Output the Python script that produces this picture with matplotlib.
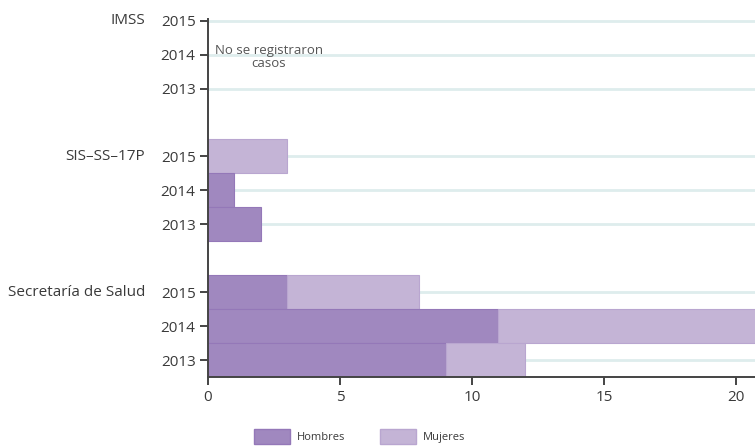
import numpy as np
import matplotlib.pyplot as plt
from matplotlib.patches import Patch

plt.rcParams['font.family'] = ['Open Sans', 'DejaVu Sans']

# data
groups = ["IMSS", "SIS\u2013SS\u201317P", "Secretaría de Salud"]
years = ["2015", "2014", "2013"]
hombres = {
    "IMSS": [0, 0, 0],
    "SIS\u2013SS\u201317P": [0, 1, 2],
    "Secretaría de Salud": [3, 11, 9],
}
mujeres = {
    "IMSS": [0, 0, 0],
    "SIS\u2013SS\u201317P": [3, 0, 0],
    "Secretaría de Salud": [5, 10, 3],
}
x_ticks = [0, 5, 10, 15, 20]

c_h = "#a088bf"
c_m = "#c4b4d6"
edge = "#9478b8"
text_c = "#3a3a3a"

fig = plt.figure(figsize=(7.55, 4.46), dpi=100)
ax = fig.add_axes([0.2755, 0.1547, 0.7245, 0.8027])

positions = []
labels = []
for gi, g in enumerate(groups):
    base = gi * 4
    for yi, yr in enumerate(years):
        pos = base + yi
        positions.append(pos)
        labels.append(yr)
        ax.axhline(pos, color="#deeded", lw=2, zorder=0)
        h = hombres[g][yi]
        m = mujeres[g][yi]
        if h > 0:
            ax.barh(pos, h, height=1.0, color=c_h, edgecolor=edge, lw=0.8, zorder=2)
        if m > 0:
            ax.barh(pos, m, left=h, height=1.0, color=c_m, edgecolor="#b9a6d0", lw=0.8, zorder=2)
    # group label
    ax.text(-0.115, base, g, transform=ax.get_yaxis_transform(), ha="right", va="center",
            fontsize=11, color=text_c)

ax.set_yticks(positions)
ax.set_yticklabels(labels)
ax.set_xticks(x_ticks)
ax.set_xlim(0, 20.72)
ax.set_ylim(10.5, -0.05)

for s in ["top", "right"]:
    ax.spines[s].set_visible(False)
for s in ["left", "bottom"]:
    ax.spines[s].set_color("#444444")
    ax.spines[s].set_linewidth(1.4)
ax.tick_params(axis="both", colors="#444444", labelcolor=text_c, labelsize=11,
               length=6, width=1.4, direction="out")
ax.tick_params(axis="y", pad=3)

ax.text(2.3, 1.06, "No se registraron\ncasos", ha="center", va="center",
        fontsize=9.5, color="#555555", linespacing=1.0, zorder=3)

handles = [Patch(facecolor=c_h, edgecolor=edge, label="Hombres"),
           Patch(facecolor=c_m, edgecolor="#b9a6d0", label="Mujeres")]
fig.legend(handles=handles, loc="upper left", bbox_to_anchor=(0.336, 0.037),
           ncol=2, frameon=False, fontsize=8, handlelength=3.3, handleheight=1.6,
           columnspacing=3.1, handletextpad=0.6, labelcolor=text_c,
           borderaxespad=0, borderpad=0)

fig.savefig("out.png", dpi=100)
